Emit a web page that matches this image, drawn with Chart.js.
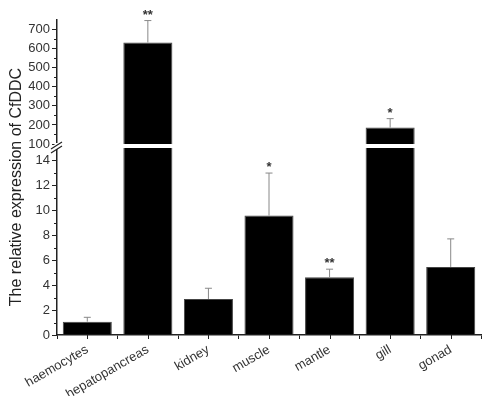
<!DOCTYPE html>
<html>
<head>
<meta charset="utf-8">
<script src="https://cdn.jsdelivr.net/npm/chart.js@4/dist/chart.umd.min.js"></script>
<style>
  html, body { margin: 0; padding: 0; background: #fff; }
  #wrap { position: relative; width: 491px; height: 396px; }
  #wrap canvas { position: absolute; left: 0; top: 0; }
</style>
</head>
<body>
<div id="wrap">
  <canvas id="upper" width="491" height="396"></canvas>
  <canvas id="lower" width="491" height="396"></canvas>
</div>
<script>
// data
const categories = ['haemocytes', 'hepatopancreas', 'kidney', 'muscle', 'mantle', 'gill', 'gonad'];
const values = [1.07, 632, 2.89, 9.58, 4.63, 186, 5.46];
const errors = [0.35, 115, 0.86, 3.41, 0.65, 47, 2.25];
const marks = ['', '**', '', '*', '**', '*', ''];
const upperTicks = [100, 200, 300, 400, 500, 600, 700];
const lowerTicks = [0, 2, 4, 6, 8, 10, 12, 14];
const upperMinor = [150, 250, 350, 450, 550, 650];
const lowerMinor = [1, 3, 5, 7, 9, 11, 13];

const FONT = 'Liberation Sans, Arial, sans-serif';
const AXIS_W = 57;

// error bars + asterisks, only for bars whose top sits inside this chart's range
const errorBars = {
    id: 'errorBars',
    afterDatasetsDraw(chart) {
        const ctx = chart.ctx;
        const y = chart.scales.y;
        const meta = chart.getDatasetMeta(0);
        ctx.save();
        meta.data.forEach((bar, i) => {
            const v = values[i];
            if (v < y.min || v > y.max) return;
            const y0 = y.getPixelForValue(v);
            const y1 = y.getPixelForValue(v + errors[i]);
            ctx.strokeStyle = '#888';
            ctx.lineWidth = 1;
            ctx.beginPath();
            ctx.moveTo(bar.x, y0);
            ctx.lineTo(bar.x, y1);
            ctx.moveTo(bar.x - 3.5, y1);
            ctx.lineTo(bar.x + 3.5, y1);
            ctx.stroke();
            if (marks[i]) {
                ctx.fillStyle = '#333';
                ctx.font = 'bold 13px ' + FONT;
                ctx.textAlign = 'center';
                ctx.textBaseline = 'alphabetic';
                ctx.fillText(marks[i], bar.x, y1 - 2);
            }
        });
        ctx.restore();
    }
};

// minor ticks on the y axis
function minorTicks(list) {
    return {
        id: 'minorTicks',
        afterDraw(chart) {
            const ctx = chart.ctx;
            const y = chart.scales.y;
            const x = chart.chartArea.left;
            ctx.save();
            ctx.strokeStyle = '#222';
            ctx.lineWidth = 1;
            ctx.beginPath();
            list.forEach(v => {
                const p = Math.round(y.getPixelForValue(v)) + 0.5;
                ctx.moveTo(x - 3, p);
                ctx.lineTo(x, p);
            });
            ctx.stroke();
            ctx.restore();
        }
    };
}

// small ticks under each category centre
const centerTicks = {
    id: 'centerTicks',
    afterDraw(chart) {
        const ctx = chart.ctx;
        const xs = chart.scales.x;
        const b = chart.chartArea.bottom;
        ctx.save();
        ctx.strokeStyle = '#222';
        ctx.lineWidth = 1;
        ctx.beginPath();
        categories.forEach((c, i) => {
            const p = Math.round(xs.getPixelForValue(i)) + 0.5;
            ctx.moveTo(p, b);
            ctx.lineTo(p, b + 4);
        });
        ctx.stroke();
        ctx.restore();
    }
};

// axis break marks and the shared y title
const breakAndTitle = {
    id: 'breakAndTitle',
    afterDraw(chart) {
        const ctx = chart.ctx;
        const a = chart.chartArea;
        ctx.save();
        ctx.strokeStyle = '#fff';
        ctx.lineWidth = 5;
        ctx.beginPath();
        ctx.moveTo(a.left, a.top - 5);
        ctx.lineTo(a.left, a.top + 1);
        ctx.stroke();
        ctx.strokeStyle = '#222';
        ctx.lineWidth = 1.2;
        ctx.beginPath();
        ctx.moveTo(a.left - 6, a.top + 1);
        ctx.lineTo(a.left + 5, a.top - 6);
        ctx.moveTo(a.left - 6, a.top + 5);
        ctx.lineTo(a.left + 5, a.top - 2);
        ctx.stroke();

        ctx.translate(17, 187);
        ctx.rotate(-Math.PI / 2);
        ctx.fillStyle = '#222';
        ctx.font = '16px ' + FONT;
        ctx.textAlign = 'center';
        ctx.textBaseline = 'middle';
        ctx.fillText('The relative expression of CfDDC', 0, 0);
        ctx.restore();
    }
};

function yScale(min, max, keep) {
    return {
        min: min,
        max: max,
        afterBuildTicks: s => { s.ticks = keep.map(v => ({ value: v })); },
        afterFit: s => { s.width = AXIS_W; },
        grid: { drawOnChartArea: false, drawTicks: true, tickLength: 5, color: '#222', lineWidth: 1 },
        border: { display: true, color: '#222', width: 1.5 },
        ticks: { color: '#333', font: { family: FONT, size: 13 }, padding: 2 }
    };
}

const barStyle = {
    backgroundColor: '#000',
    borderColor: '#444',
    borderWidth: 1,
    barPercentage: 0.81,
    categoryPercentage: 1
};

new Chart(document.getElementById('upper'), {
    type: 'bar',
    data: {
        labels: categories,
        datasets: [Object.assign({ data: values.map(v => v >= upperTicks[0] ? v : null) }, barStyle)]
    },
    options: {
        responsive: false,
        animation: false,
        layout: { padding: { top: 20, bottom: 252, left: 0, right: 10 } },
        plugins: { legend: { display: false }, tooltip: { enabled: false } },
        scales: {
            x: { display: false },
            y: yScale(100, 750, upperTicks)
        }
    },
    plugins: [errorBars, minorTicks(upperMinor)]
});

new Chart(document.getElementById('lower'), {
    type: 'bar',
    data: {
        labels: categories,
        datasets: [Object.assign({ data: values }, barStyle)]
    },
    options: {
        responsive: false,
        animation: false,
        layout: { padding: { top: 148, bottom: 0, left: 0, right: 10 } },
        plugins: { legend: { display: false }, tooltip: { enabled: false } },
        scales: {
            x: {
                afterFit: s => { s.height = 61; },
                grid: { drawOnChartArea: false, drawTicks: true, tickLength: 4, color: '#222', offset: true },
                border: { display: true, color: '#222', width: 1.5 },
                ticks: { color: '#333', font: { family: FONT, size: 13 }, minRotation: 30, maxRotation: 30, padding: 3 }
            },
            y: yScale(0, 15, lowerTicks)
        }
    },
    plugins: [errorBars, minorTicks(lowerMinor), centerTicks, breakAndTitle]
});
</script>
</body>
</html>
